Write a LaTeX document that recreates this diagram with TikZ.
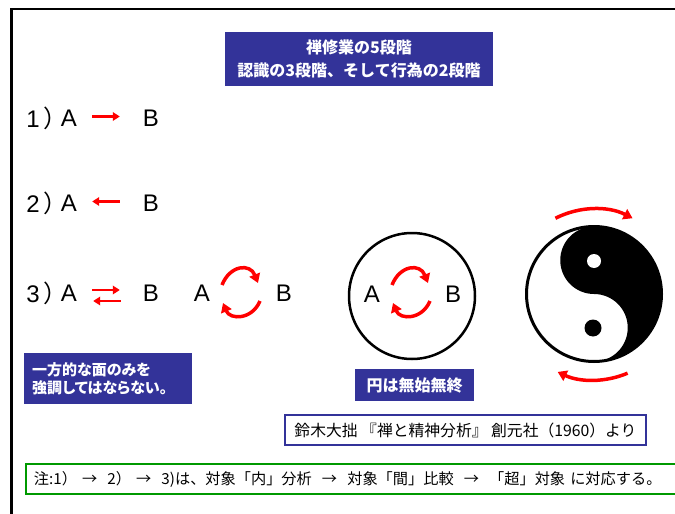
\documentclass[tikz,border=0pt]{standalone}
\usepackage{fontspec}
\usetikzlibrary{arrows.meta,calc}
\newfontfamily\jp{Noto Sans CJK JP}
\newfontfamily\jpp{Noto Sans CJK JP}[RawFeature=+palt]
\newfontfamily\lib{Liberation Sans}
\definecolor{boxblue}{HTML}{333399}
\definecolor{notegreen}{HTML}{009900}
\definecolor{arrred}{HTML}{FF0000}
\begin{document}
\begin{tikzpicture}[x=1pt,y=-1pt,
  letter/.style={font=\lib\fontsize{24}{24}\selectfont, inner sep=0pt},
  bluebox/.style={fill=boxblue, text=white, font=\jp\bfseries\fontsize{16}{23}\selectfont, inner sep=0pt, align=center},
  rarrow/.style={draw=arrred, line width=2.5pt, -{Triangle[length=7pt,width=8.5pt]}},
  carrow/.style={draw=arrred, line width=3.5pt, -{Triangle[length=9pt,width=11pt]}},
]
\useasboundingbox (0,0) rectangle (675,514);
\fill[white] (0,0) rectangle (675,514);
\draw[line width=2.5pt] (11.5,520) -- (11.5,9) -- (690,9);

% title
\node[bluebox, minimum width=268pt, minimum height=54pt] (title) at (359,59) {禅修業の5段階\\認識の3段階、そして行為の2段階};

% row 1
\node[letter, anchor=base east] (n1) at (57,127) {1\kern5pt{\jpp ）}};
\node[letter] (A1) at (69,118.5) {A};
\node[letter] (B1) at (151,118.5) {B};
\draw[rarrow] ([xshift=15pt,yshift=2pt]A1.east) -- ([xshift=-23pt,yshift=2pt]B1.west);

% row 2
\node[letter, anchor=base east] (n2) at (57,212) {2\kern5pt{\jpp ）}};
\node[letter] (A2) at (69,203.5) {A};
\node[letter] (B2) at (151,203.5) {B};
\draw[rarrow] ([xshift=-23pt,yshift=2pt]B2.west) -- ([xshift=15pt,yshift=2pt]A2.east);

% row 3
\node[letter, anchor=base east] (n3) at (57,302) {3\kern5pt{\jpp ）}};
\node[letter] (A3) at (69,293.5) {A};
\node[letter] (B3) at (151,293.5) {B};
\draw[rarrow] ([xshift=15pt,yshift=3.5pt]A3.east) -- ([xshift=-23pt,yshift=3.5pt]B3.west);
\draw[rarrow] ([xshift=-22pt,yshift=-7.5pt]B3.west) -- ([xshift=16pt,yshift=-7.5pt]A3.east);

\node[letter] (A3b) at (202,293.5) {A};
\node[letter] (B3b) at (284,293.5) {B};
\coordinate (t1s) at (222,285);
\coordinate (t1e) at (258,283);
\coordinate (b1s) at (260,301);
\coordinate (b1e) at (223,303);
\draw[carrow] (t1s) .. controls +(8,-20) and +(-8,-20) .. (t1e);
\draw[carrow] (b1s) .. controls +(-8,19) and +(7,17) .. (b1e);

% circle with A B
\node[circle, draw, line width=2.5pt, minimum size=126pt, inner sep=0pt] (ring) at (412,296) {};
\node[letter] (A4) at (372,294) {A};
\node[letter] (B4) at (453,294) {B};
\coordinate (t2s) at (392,285);
\coordinate (t2e) at (428,283);
\coordinate (b2s) at (430,301);
\coordinate (b2e) at (393,303);
\draw[carrow] (t2s) .. controls +(8,-20) and +(-8,-20) .. (t2e);
\draw[carrow] (b2s) .. controls +(-8,19) and +(7,17) .. (b2e);

% yin-yang
\begin{scope}[shift={(594,294)}, y=1pt]
  \fill[white] (0,0) circle[radius=67.5];
  \fill[black] (0,67.5) arc[start angle=90,end angle=-90,radius=67.5]
     arc[start angle=-90,end angle=90,radius=33.75]
     arc[start angle=-90,end angle=-270,radius=33.75] -- cycle;
  \fill[white] (0,33) circle[radius=7];
  \fill[black] (-1,-34) circle[radius=8.5];
  \draw[line width=3pt] (0,0) circle[radius=67.5];
  \draw[carrow] (117:85) arc[start angle=117,end angle=63,radius=85];
  \draw[carrow] (-67:86) arc[start angle=-67,end angle=-115,radius=86];
\end{scope}

% blue boxes
\node[bluebox, anchor=north west, minimum width=168pt, minimum height=51pt, text width=152pt, align=left, inner xsep=8pt, font=\jpp\bfseries\fontsize{15}{18}\selectfont] (warn) at (24,353) {一方的な面のみを\\強調してはならない。};
\node[bluebox, minimum width=119pt, minimum height=32pt] (enbox) at (414.5,385) {円は無始無終};

% citation
\node[draw=boxblue, line width=1.5pt, minimum width=361pt, minimum height=30pt, inner sep=0pt, font=\jp\fontsize{15.8}{18}\selectfont] (cite) at (465.5,430) {鈴木大拙 『禅と精神分析』 創元社（1960）より};

% note
\node[draw=notegreen, line width=2pt, anchor=north west, minimum width=665pt, minimum height=30pt, text width=649pt, inner xsep=8pt, inner ysep=0pt, align=left, font=\jp\fontsize{15.2}{18}\selectfont] (note) at (25,463) {\mbox{注:1）\ →\ \ 2）\ →\ \ 3)は、対象「内」分析\ \ →\ \ 対象「間」比較\ \ →\ \ 「超」対象 に対応する。}};
\end{tikzpicture}
\end{document}
